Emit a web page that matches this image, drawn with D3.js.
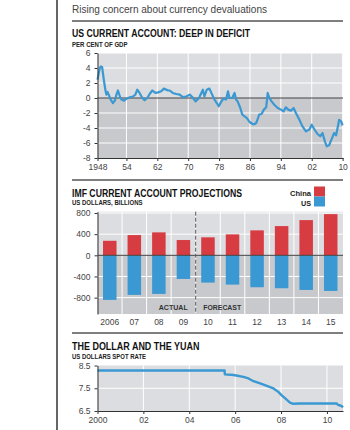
<!DOCTYPE html>
<html>
<head>
<meta charset="utf-8">
<script src="https://cdn.jsdelivr.net/npm/d3@7"></script>
<style>
body { margin: 0; background: #fff; }
svg text { font-family: "Liberation Sans", Arial, sans-serif; }
.tick text { fill: #444; font-size: 8.5px; }
.axis path, .axis line { stroke: #333; }
</style>
</head>
<body>
<div id="chart"></div>
<script>
// US current account, % of GDP
var caYears = [1946.5, 1947.1, 1947.4, 1947.7, 1948.2, 1948.6, 1948.8, 1949.1, 1949.4, 1949.9,
    1950.5, 1951.0, 1951.4, 1951.8, 1952.3, 1952.7, 1953.4, 1954.0, 1954.9, 1955.7,
    1956.3, 1956.8, 1957.4, 1958.0, 1958.7, 1959.4, 1960.0, 1960.7, 1961.5, 1962.2,
    1963.0, 1963.7, 1964.8, 1965.2, 1966.0, 1966.9, 1967.8, 1968.6, 1969.5, 1970.4,
    1971.1, 1971.9, 1972.8, 1973.4, 1973.8, 1974.2, 1974.8, 1975.5, 1976.2, 1976.8,
    1977.4, 1977.9, 1978.6, 1979.1, 1979.8, 1980.3, 1980.7, 1981.4, 1982.0, 1982.4,
    1982.8, 1983.5, 1984.0, 1984.6, 1985.2, 1985.9, 1986.7, 1987.2, 1987.6, 1987.8,
    1988.4, 1989.0, 1989.6, 1990.2, 1990.6, 1991.0, 1991.6, 1992.3, 1993.2, 1994.0,
    1994.7, 1995.3, 1995.9, 1996.6, 1997.3, 1997.9, 1998.8, 1999.6, 2000.5, 2001.4,
    2002.0, 2002.7, 2003.5, 2004.2, 2004.8, 2005.4, 2005.9, 2006.5, 2007.1, 2007.8,
    2008.3, 2008.7, 2009.1, 2009.6, 2010.0];
var caValues = [2.45, 4.0, 4.2, 4.1, 2.2, 0.9, 0.45, 0.8, 0.45, -0.2,
    -0.67, -0.35, 0.45, 1.0, 0.2, -0.2, -0.35, -0.1, 0.1, 0.2,
    0.45, 1.1, 0.67, 0.1, -0.3, 0.0, 0.53, 1.0, 0.67, 0.75,
    0.9, 1.25, 1.0, 1.0, 0.67, 0.53, 0.45, 0.13, 0.2, 0.45,
    0.1, -0.45, 0.0, 0.67, 1.1, 0.2, 1.1, 1.25, 0.45, -0.2,
    -0.67, -1.1, -0.45, -0.1, -0.2, 0.9, 0.0, 0.0, 0.67, -0.2,
    -0.45, -1.33, -2.2, -2.45, -2.67, -3.2, -3.47, -3.47, -3.33, -3.1,
    -2.2, -2.13, -1.55, -1.24, 0.67, 0.0, -0.45, -0.9, -1.33, -1.55,
    -1.78, -1.24, -1.55, -1.7, -1.33, -2.0, -2.9, -3.78, -4.45, -4.2,
    -3.56, -4.2, -4.8, -5.1, -4.67, -5.78, -6.45, -6.3, -5.56, -4.67,
    -4.98, -4.0, -2.9, -3.1, -3.64];
var caTickYears = [1946.5, 1954, 1962, 1970, 1978, 1986, 1994, 2002, 2010];
var caTickLabels = ["1948", "54", "62", "70", "78", "86", "94", "02", "10"];
var caYTicks = [6, 4, 2, 0, -2, -4, -6, -8];

// IMF current account projections, US$bn
var imfYears = ["2006", "07", "08", "09", "10", "11", "12", "13", "14", "15"];
var chinaValues = [275, 383, 434, 289, 340, 396, 472, 553, 666, 779];
var usValues = [-843, -749, -730, -447, -516, -554, -604, -623, -655, -674];
var imfYTicks = [800, 400, 0, -400, -800];

// Yuan per US dollar, spot rate
var yuanYears = [2000, 2005.54, 2005.55, 2005.93, 2006.36, 2006.58, 2006.8, 2007.09, 2007.38, 2007.67,
    2007.88, 2008.03, 2008.22, 2008.39, 2008.51, 2008.83, 2009.26, 2010.42, 2010.49, 2010.64, 2010.7];
var yuanValues = [8.28, 8.28, 8.11, 8.08, 8.0, 7.93, 7.81, 7.71, 7.6, 7.49,
    7.34, 7.19, 7.02, 6.87, 6.82, 6.83, 6.83, 6.83, 6.77, 6.72, 6.66];
var yuanTicks = [2000, 2002, 2004, 2006, 2008, 2010];
var yuanTickLabels = ["2000", "02", "04", "06", "08", "10"];
var yuanYTicks = [8.5, 7.5, 6.5];

var lightBg = "#dcdde0", darkBg = "#c8c9cc";
var blue = "#3a98d2", red = "#d63c42";

var svg = d3.select("#chart")
    .append("svg")
        .attr("width", 350)
        .attr("height", 430);

// left rule of the page column
svg.append("line")
    .attr("x1", 57).attr("x2", 57)
    .attr("y1", 0).attr("y2", 430)
    .attr("stroke", "#333")
    .attr("stroke-width", 1.5);

function label(txt, x, y, size, weight, len, color) {
    var t = svg.append("text")
        .attr("x", x)
        .attr("y", y)
        .attr("font-size", size + "px")
        .attr("font-weight", weight)
        .attr("fill", color || "#111")
        .text(txt);
    if (len) {
        t.attr("textLength", len).attr("lengthAdjust", "spacingAndGlyphs");
    }
    return t;
}

function rule(y) {
    svg.append("line")
        .attr("x1", 72).attr("x2", 343)
        .attr("y1", y).attr("y2", y)
        .attr("stroke", "#555")
        .attr("stroke-width", 1.5);
}

label("Rising concern about currency devaluations", 72, 12.5, 10, "normal", 195, "#444");
rule(21);

// ---------- Chart 1: US current account ----------
label("US CURRENT ACCOUNT: DEEP IN DEFICIT", 72, 37, 10, "bold", 178);
label("PER CENT OF GDP", 72, 46.5, 6.5, "bold", 55.5, "#222");

var x1 = d3.scaleLinear().domain([1946.5, 2010.1]).range([97.5, 343]);
var y1 = d3.scaleLinear().domain([-8, 6]).range([158, 53]);

var g1 = svg.append("g");
g1.append("rect")
    .attr("x", x1.range()[0]).attr("width", x1.range()[1] - x1.range()[0])
    .attr("y", y1(6)).attr("height", y1(0) - y1(6))
    .attr("fill", lightBg);
g1.append("rect")
    .attr("x", x1.range()[0]).attr("width", x1.range()[1] - x1.range()[0])
    .attr("y", y1(0)).attr("height", y1(-8) - y1(0))
    .attr("fill", darkBg);

g1.selectAll(".hgrid")
    .data(caYTicks.filter(d => d !== 0 && d !== -8))
    .enter().append("line")
        .attr("x1", x1.range()[0]).attr("x2", x1.range()[1])
        .attr("y1", d => y1(d)).attr("y2", d => y1(d))
        .attr("stroke", "#fff").attr("stroke-width", 1);
g1.selectAll(".vgrid")
    .data(caTickYears.slice(1))
    .enter().append("line")
        .attr("x1", d => x1(d)).attr("x2", d => x1(d))
        .attr("y1", y1(6)).attr("y2", y1(-8))
        .attr("stroke", "#fff").attr("stroke-width", 1);
g1.append("line")
    .attr("x1", x1.range()[0]).attr("x2", x1.range()[1])
    .attr("y1", y1(0)).attr("y2", y1(0))
    .attr("stroke", "#444").attr("stroke-width", 1);

var caLine = d3.line()
    .x((d, i) => x1(caYears[i]))
    .y(d => y1(d));
g1.append("path")
    .attr("d", caLine(caValues))
    .attr("fill", "none")
    .attr("stroke", blue)
    .attr("stroke-width", 2.2)
    .attr("stroke-linejoin", "round");

g1.append("g")
    .attr("class", "axis")
    .attr("transform", "translate(" + x1.range()[0] + ",0)")
    .call(d3.axisLeft(y1).tickValues(caYTicks).tickSize(3).tickSizeOuter(0).tickPadding(4)
        .tickFormat(d => String(d)));
g1.append("g")
    .attr("class", "axis")
    .attr("transform", "translate(0," + y1(-8) + ")")
    .call(d3.axisBottom(x1).tickValues(caTickYears).tickSize(3).tickSizeOuter(0).tickPadding(3)
        .tickFormat((d, i) => caTickLabels[i]));

rule(180);

// ---------- Chart 2: IMF projections ----------
label("IMF CURRENT ACCOUNT PROJECTIONS", 72, 196.5, 10, "bold", 170);
label("US DOLLARS, BILLIONS", 72, 204.5, 6.5, "bold", 70.5, "#222");

var x2 = d3.scaleBand().domain(imfYears).range([97.5, 343]).paddingInner(0.45).paddingOuter(0.225);
var y2 = d3.scaleLinear().domain([-1110, 825]).range([314, 211.7]);

var g2 = svg.append("g");
g2.append("rect")
    .attr("x", 97.5).attr("width", 343 - 97.5)
    .attr("y", y2(825)).attr("height", y2(0) - y2(825))
    .attr("fill", lightBg);
g2.append("rect")
    .attr("x", 97.5).attr("width", 343 - 97.5)
    .attr("y", y2(0)).attr("height", y2(-1110) - y2(0))
    .attr("fill", darkBg);

var half = x2.step() * x2.paddingInner() / 2;
g2.selectAll(".vgrid")
    .data(imfYears.slice(1))
    .enter().append("line")
        .attr("x1", d => x2(d) - half).attr("x2", d => x2(d) - half)
        .attr("y1", y2(825)).attr("y2", y2(-1110))
        .attr("stroke", "#fff").attr("stroke-width", 1);
g2.selectAll(".hgrid")
    .data(imfYTicks.filter(d => d !== 0))
    .enter().append("line")
        .attr("x1", 97.5).attr("x2", 343)
        .attr("y1", d => y2(d)).attr("y2", d => y2(d))
        .attr("stroke", "#fff").attr("stroke-width", 1);

g2.selectAll(".china")
    .data(chinaValues)
    .enter().append("rect")
        .attr("x", (d, i) => x2(imfYears[i]))
        .attr("width", x2.bandwidth())
        .attr("y", d => y2(d))
        .attr("height", d => y2(0) - y2(d))
        .attr("fill", red);
g2.selectAll(".us")
    .data(usValues)
    .enter().append("rect")
        .attr("x", (d, i) => x2(imfYears[i]))
        .attr("width", x2.bandwidth())
        .attr("y", y2(0))
        .attr("height", d => y2(d) - y2(0))
        .attr("fill", blue);

g2.append("line")
    .attr("x1", 97.5).attr("x2", 343)
    .attr("y1", y2(0)).attr("y2", y2(0))
    .attr("stroke", "#444").attr("stroke-width", 1);

// actual / forecast divider
var divX = x2("10") - half;
g2.append("line")
    .attr("x1", divX).attr("x2", divX)
    .attr("y1", y2(825)).attr("y2", y2(-1110))
    .attr("stroke", "#555")
    .attr("stroke-width", 1)
    .attr("stroke-dasharray", "4,2");
label("ACTUAL", divX - 37, 309.5, 7.5, "bold", 29, "#333");
label("FORECAST", divX + 7.5, 309.5, 7.5, "bold", 38, "#333");

g2.append("g")
    .attr("class", "axis")
    .attr("transform", "translate(97.5,0)")
    .call(d3.axisLeft(y2).tickValues(imfYTicks).tickSize(3).tickSizeOuter(0).tickPadding(4)
        .tickFormat(d => String(d)));
var xAx2 = g2.append("g")
    .attr("class", "axis")
    .attr("transform", "translate(0,314)")
    .call(d3.axisBottom(x2).tickSize(0).tickPadding(5));
xAx2.select(".domain").remove();

// legend
label("China", 311, 195.5, 8, "bold", 21, "#222").attr("text-anchor", "end");
label("US", 311, 205.5, 8, "bold", 10, "#222").attr("text-anchor", "end");
svg.append("rect").attr("x", 314).attr("y", 186.5).attr("width", 11).attr("height", 10).attr("fill", red);
svg.append("rect").attr("x", 314).attr("y", 196.5).attr("width", 11).attr("height", 10).attr("fill", blue);

rule(333);

// ---------- Chart 3: dollar and yuan ----------
label("THE DOLLAR AND THE YUAN", 72, 350, 10, "bold", 127.5);
label("US DOLLARS SPOT RATE", 72, 358.5, 6.5, "bold", 74, "#222");

var x3 = d3.scaleLinear().domain([2000, 2010.7]).range([97.5, 343]);
var y3 = d3.scaleLinear().domain([6.5, 8.5]).range([411, 365.5]);

var g3 = svg.append("g");
g3.append("rect")
    .attr("x", 97.5).attr("width", 343 - 97.5)
    .attr("y", y3(8.5)).attr("height", y3(6.5) - y3(8.5))
    .attr("fill", lightBg);
g3.append("line")
    .attr("x1", 97.5).attr("x2", 343)
    .attr("y1", y3(7.5)).attr("y2", y3(7.5))
    .attr("stroke", "#fff").attr("stroke-width", 1);
g3.selectAll(".vgrid")
    .data(yuanTicks.slice(1))
    .enter().append("line")
        .attr("x1", d => x3(d)).attr("x2", d => x3(d))
        .attr("y1", y3(8.5)).attr("y2", y3(6.5))
        .attr("stroke", "#fff").attr("stroke-width", 1);

var yuanLine = d3.line()
    .x((d, i) => x3(yuanYears[i]))
    .y(d => y3(d));
g3.append("path")
    .attr("d", yuanLine(yuanValues))
    .attr("fill", "none")
    .attr("stroke", blue)
    .attr("stroke-width", 2.4)
    .attr("stroke-linejoin", "round");

g3.append("g")
    .attr("class", "axis")
    .attr("transform", "translate(97.5,0)")
    .call(d3.axisLeft(y3).tickValues(yuanYTicks).tickSize(3).tickSizeOuter(0).tickPadding(4)
        .tickFormat(d3.format(".1f")));
g3.append("g")
    .attr("class", "axis")
    .attr("transform", "translate(0," + y3(6.5) + ")")
    .call(d3.axisBottom(x3).tickValues(yuanTicks).tickSize(3).tickSizeOuter(0).tickPadding(3)
        .tickFormat((d, i) => yuanTickLabels[i]));
</script>
</body>
</html>
